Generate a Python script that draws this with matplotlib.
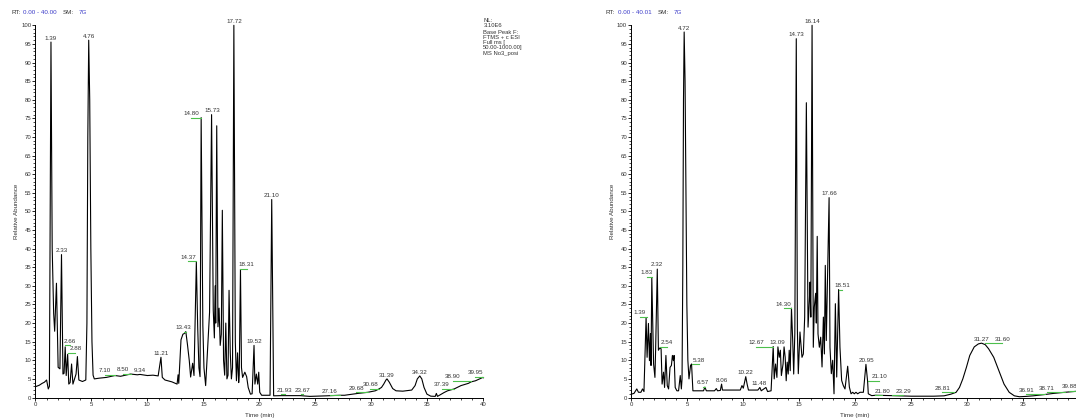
import matplotlib.pyplot as plt
from matplotlib.ticker import MultipleLocator

plt.rcParams['font.family'] = ['Liberation Sans', 'DejaVu Sans']

W, H = 1076, 419

# ---- sample No3_posi (left) ----
left_time = [0.0, 0.35, 0.6, 0.8, 1.0, 1.15, 1.25, 1.39, 1.5, 1.63, 1.72, 1.88, 2.03, 2.19, 2.33,
             2.46, 2.56, 2.66, 2.75, 2.88, 2.98, 3.1, 3.23, 3.35, 3.5, 3.63, 3.75, 3.88, 4.2, 4.5,
             4.6, 4.68, 4.76, 4.85, 4.95, 5.05, 5.15, 5.26, 5.72, 6.34, 7.1, 7.6, 8.2, 8.5, 9.1,
             9.34, 10.0, 10.5, 10.96, 11.21, 11.33, 11.57, 12.19, 12.65, 12.74, 12.8, 13.0, 13.17,
             13.3, 13.43, 13.57, 13.74, 13.86, 14.04, 14.16, 14.37, 14.49, 14.6, 14.7, 14.8, 14.95,
             15.05, 15.2, 15.4, 15.55, 15.73, 15.88, 15.98, 16.05, 16.1, 16.19, 16.3, 16.4, 16.5,
             16.6, 16.69, 16.8, 16.9, 17.0, 17.1, 17.2, 17.29, 17.4, 17.5, 17.6, 17.72, 17.85,
             17.95, 18.05, 18.15, 18.2, 18.31, 18.4, 18.5, 18.7, 18.86, 19.0, 19.2, 19.35, 19.52,
             19.6, 19.73, 19.85, 19.94, 20.03, 20.2, 20.95, 21.1, 21.27, 21.93, 23.67, 24.5, 26.0,
             27.16, 27.6, 28.8, 29.68, 30.35, 30.68, 30.9, 31.1, 31.3, 31.39, 31.6, 31.9, 32.2,
             32.8, 33.6, 33.9, 34.1, 34.32, 34.5, 34.7, 34.96, 35.3, 35.7, 35.8, 35.9, 36.5, 36.8,
             37.39, 38.0, 38.66, 38.9, 39.3, 39.95, 40.0]
left_abund = [2.9, 3.3, 3.8, 4.1, 4.7, 2.3, 3.0, 95.5, 40, 22.6, 17.8, 30.7, 8.1, 7.7, 38.4,
              6.3, 6.5, 13.6, 5.9, 11.6, 3.6, 4.0, 9.0, 3.6, 5.0, 6.3, 11.0, 4.7, 4.3, 4.7,
              20, 70, 96, 80, 40, 15, 6, 5.0, 5.2, 5.4, 5.9, 5.7, 6.1, 6.3, 6.1,
              6.2, 5.9, 6.0, 5.8, 10.8, 5.4, 4.7, 4.2, 3.6, 6.1, 3.8, 15.5, 17.0,
              17.2, 17.7, 14.4, 9.9, 5.5, 9.2, 5.9, 36.4, 18.9, 8, 5.6, 75.2, 19.4,
              8, 3.2, 14.4, 22.9, 76, 23.4, 16, 30, 20, 73, 19, 24, 14,
              17, 50.3, 10, 6, 20, 5, 6, 28.8, 12, 5, 8, 100, 15,
              4.5, 12, 4, 6, 34.4, 8, 5.4, 6.8, 5.6, 2.7, 0.9, 1.0, 14,
              3.6, 6.3, 3.6, 6.8, 1.4, 0.6, 0.6, 53.2, 0.45, 0.5, 0.5, 0.3, 0.45,
              0.6, 0.6, 1.1, 1.4, 1.8, 2.3, 2.7, 3.6, 4.7, 5.0, 4.1, 2.4, 1.8,
              1.7, 2.0, 3.2, 5.0, 5.8, 5.0, 2.7, 0.9, 0.36, 0.3, 1.1, 0.3, 1.35, 1.8,
              2.3, 3.2, 3.8, 4.2, 4.5, 5.4, 5.3]
left_labels = ["1.39", "2.33", "2.66", "2.88", "4.76", "7.10", "8.50", "9.34", "11.21", "13.43",
               "14.37", "14.80", "15.73", "17.72", "18.31", "19.52", "21.10", "21.93", "23.67",
               "27.16", "29.68", "30.68", "31.39", "34.32", "37.39", "38.90", "39.95"]
left_label_x = [1.39, 2.35, 3.05, 3.57, 4.76, 6.19, 7.8, 9.3, 11.19, 13.25,
                13.65, 13.9, 15.77, 17.72, 18.86, 19.52, 21.1, 22.28, 23.88,
                26.29, 28.65, 29.89, 31.39, 34.3, 36.26, 37.27, 39.27]
left_label_y = [95.5, 38.4, 14.1, 12.0, 96, 6.1, 6.4, 6.3, 10.8, 17.7,
                36.6, 75.2, 76, 100, 34.6, 14, 53.2, 0.9, 0.9,
                0.7, 1.35, 2.4, 5.0, 5.8, 2.4, 4.5, 5.6]

# ---- second sample (right) ----
right_time = [0.0, 0.24, 0.49, 0.64, 0.86, 1.0, 1.13, 1.32, 1.41, 1.53, 1.62, 1.71, 1.76, 1.83,
              1.99, 2.11, 2.17, 2.32, 2.42, 2.54, 2.66, 2.75, 2.88, 2.97, 3.09, 3.21, 3.33, 3.46,
              3.58, 3.67, 3.76, 3.82, 3.92, 4.07, 4.22, 4.37, 4.47, 4.53, 4.6, 4.66, 4.72, 4.8,
              4.88, 4.96, 5.05, 5.15, 5.29, 5.38, 5.5, 5.75, 6.45, 6.57, 6.7, 7.43, 7.59, 7.7,
              7.95, 8.06, 8.14, 8.66, 9.73, 9.88, 10.0, 10.22, 10.34, 10.46, 11.1, 11.3, 11.48,
              11.6, 12.02, 12.17, 12.48, 12.67, 12.76, 12.88, 13.0, 13.09, 13.21, 13.31, 13.4,
              13.55, 13.64, 13.74, 13.83, 13.92, 14.01, 14.1, 14.19, 14.3, 14.41, 14.5, 14.6,
              14.73, 14.83, 14.91, 15.06, 15.24, 15.36, 15.48, 15.63, 15.78, 15.9, 15.96, 16.03,
              16.14, 16.25, 16.34, 16.46, 16.52, 16.6, 16.67, 16.79, 16.91, 17.03, 17.15, 17.24,
              17.32, 17.41, 17.53, 17.66, 17.74, 17.86, 17.98, 18.1, 18.22, 18.34, 18.51, 18.63,
              18.78, 18.93, 19.08, 19.32, 19.47, 19.62, 19.77, 19.91, 20.06, 20.21, 20.42, 20.72,
              20.95, 21.1, 21.16, 21.46, 21.8, 23.29, 25.0, 27.0, 27.93, 28.54, 28.81, 29.0,
              29.3, 29.6, 29.92, 30.22, 30.62, 30.99, 31.27, 31.6, 31.9, 32.36, 32.82, 33.28,
              33.74, 34.2, 34.66, 35.27, 35.88, 36.91, 37.7, 38.71, 39.88, 40.01]
right_abund = [0.9, 1.1, 2.3, 1.4, 1.4, 2.3, 1.6, 21.5, 10.8, 19.9, 9.9, 17.2, 8.6, 32.2,
               9.0, 5.4, 12.7, 34.5, 12.7, 13.3, 13.1, 3.6, 6.8, 2.7, 11.3, 3.2, 2.3, 8.1,
               8.6, 11.3, 9.9, 11.3, 2.7, 1.8, 1.8, 5.9, 2.3, 5, 35, 80, 98.2, 85,
               55, 25, 10, 5, 8.6, 9.0, 1.8, 1.8, 1.8, 2.8, 1.8, 1.8, 2.4, 1.8,
               1.9, 3.6, 2.0, 2.0, 2.0, 3.2, 2.5, 5.6, 3.6, 2.0, 2.0, 2.0, 2.7,
               1.8, 2.7, 1.6, 1.8, 13.7, 5.0, 9.0, 5.4, 13.6, 10.8, 12.7, 5.9,
               9.0, 13.6, 10.8, 4.5, 9.5, 6.3, 12.7, 7.2, 24.0, 15.4, 6.3, 17.2,
               96.4, 18, 6.4, 17.6, 10.8, 11.7, 21.6, 79.2, 18.9, 26, 31, 21.6,
               100, 13.5, 24.3, 28, 20, 43.3, 17.1, 13.5, 16.2, 8.2, 21.6, 11.7,
               35.5, 15.3, 33.2, 53.7, 13.5, 6.4, 10, 1.0, 25.2, 5.5, 29, 13.5,
               4.6, 3.2, 2.3, 8.4, 2.8, 1.0, 1.4, 1.0, 1.4, 1.0, 1.4, 1.4,
               8.9, 4.3, 1.0, 0.5, 0.6, 0.5, 0.35, 0.35, 0.45, 0.9, 1.2, 1.4,
               2.7, 5.0, 8.1, 11.3, 13.6, 14.4, 14.6, 14.2, 13.1, 10.8, 7.2, 3.6,
               1.4, 0.45, 0.2, 0.3, 0.45, 0.8, 1.1, 1.4, 1.7, 1.7]
right_labels = ["1.39", "1.83", "2.32", "2.54", "4.72", "5.38", "6.57", "8.06", "10.22", "11.48",
                "12.67", "13.09", "14.30", "14.73", "16.14", "17.66", "18.51", "20.95", "21.10",
                "21.80", "23.29", "28.81", "31.27", "31.60", "36.91", "38.71", "39.88"]
right_label_x = [0.76, 1.41, 2.29, 3.15, 4.72, 6.0, 6.42, 8.05, 10.22, 11.44,
                 11.17, 13.06, 13.61, 14.73, 16.14, 17.66, 18.81, 20.98, 22.12,
                 22.42, 24.26, 27.78, 31.29, 33.13, 35.27, 37.1, 39.1]
right_label_y = [21.7, 32.5, 34.6, 13.6, 98.2, 9.0, 2.9, 3.6, 5.6, 2.7,
                 13.7, 13.6, 24.0, 96.4, 100, 53.7, 29.0, 8.9, 4.5,
                 0.7, 0.7, 1.4, 14.6, 14.6, 0.9, 1.5, 1.8]

nl_lines = ["NL:", "3.10E6", "Base Peak F:", "FTMS + c ESI", "Full ms [", "50.00-1000.00]", "MS No3_posi"]

BLUE = '#3b3bc8'
GREEN = '#4cc04c'
TXT = '#333333'
FS = 4.5

fig = plt.figure(figsize=(W / 100, H / 100), dpi=100)


def panel(left_px, xmax, t, a, labels, lx, ly):
    ax = fig.add_axes([left_px / W, 1 - 397.5 / H, 11.2 * xmax / W, 372.2 / H])
    ax.plot(t, a, color='black', lw=0.8, clip_on=False)
    ax.set_xlim(0, xmax)
    ax.set_ylim(0, 100)
    ax.spines['top'].set_visible(False)
    ax.spines['right'].set_visible(False)
    ax.spines['left'].set_linewidth(0.7)
    ax.spines['bottom'].set_linewidth(0.7)
    ax.xaxis.set_major_locator(MultipleLocator(5))
    ax.xaxis.set_minor_locator(MultipleLocator(1))
    ax.yaxis.set_major_locator(MultipleLocator(5))
    ax.yaxis.set_minor_locator(MultipleLocator(1))
    ax.tick_params(which='major', length=2.4, width=0.6, pad=0.6, labelsize=4.3, labelcolor=TXT)
    ax.tick_params(which='minor', length=1.3, width=0.5)
    for lab, x, y in zip(labels, lx, ly):
        pk = float(lab)
        if abs(pk - x) > 0.05:
            ax.plot([x, pk], [y, y], color=GREEN, lw=0.8, clip_on=False)
        ax.annotate(lab, (x, y), xytext=(0, 1), textcoords='offset points',
                    ha='center', va='bottom', fontsize=FS, color=TXT, annotation_clip=False)
    return ax


panel(35.4, 40.0, left_time, left_abund, left_labels, left_label_x, left_label_y)
panel(631.3, 40.01, right_time, right_abund, right_labels, right_label_x, right_label_y)


def t(x, y, s, **kw):
    kw.setdefault('color', TXT)
    kw.setdefault('fontsize', FS)
    fig.text(x / W, 1 - y / H, s, va='center', **kw)


# headers
t(11, 12.7, "RT:")
t(22.7, 12.7, "0.00 - 40.00", color=BLUE)
t(62.3, 12.7, "SM:")
t(78.3, 12.7, "7G", color=BLUE)
t(605, 12.7, "RT:")
t(617.7, 12.7, "0.00 - 40.01", color=BLUE)
t(657.7, 12.7, "SM:")
t(674, 12.7, "7G", color=BLUE)

for line, yy in zip(nl_lines, [20, 25.3, 32, 37.3, 42.6, 47.9, 53.6]):
    t(483.3, yy, line, fontsize=4.2)

# axis titles
t(16, 211, "Relative Abundance", rotation=90, ha='center')
t(612, 211, "Relative Abundance", rotation=90, ha='center')
t(260, 415, "Time (min)", ha='center')
t(855, 415, "Time (min)", ha='center')

fig.savefig("out.png", dpi=100)
